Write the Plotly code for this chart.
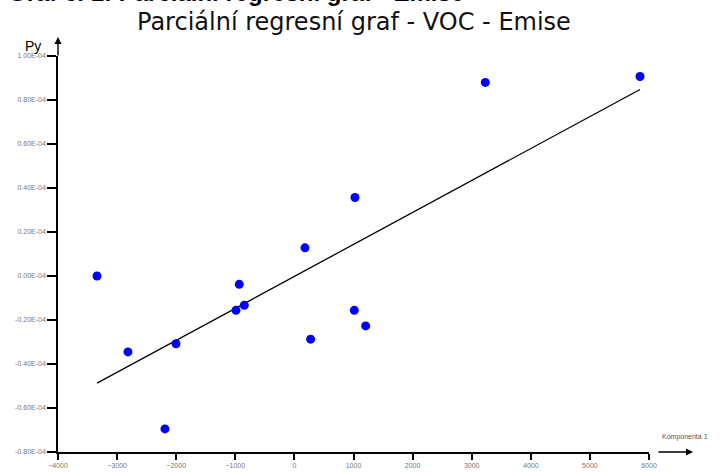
import numpy as np
import plotly.graph_objects as go

# Partial regression residuals: component (x) vs. Py (y, in units shown by tick labels)
komponenta = [-3340, -2816, -2003, -2190, -933, -988, -848, 179, 275, 1025, 1014, 1206, 3230, 5848]
py_values = [0.000, -0.345, -0.308, -0.695, -0.038, -0.156, -0.133, 0.128, -0.287, 0.357, -0.156, -0.227, 0.880, 0.907]

x_ticks = [-4000, -3000, -2000, -1000, 0, 1000, 2000, 3000, 4000, 5000, 6000]
y_ticks = [1.0, 0.8, 0.6, 0.4, 0.2, 0.0, -0.2, -0.4, -0.6, -0.8]
y_ticktext = ["1.00E-04", "0.80E-04", "0.60E-04", "0.40E-04", "0.20E-04",
              "0.00E-04", "-0.20E-04", "-0.40E-04", "-0.60E-04", "-0.80E-04"]

title_text = "Parciální regresní graf - VOC - Emise"
header_text = "Graf č. 1: Parciální regresní graf - Emise"

W, H = 721, 472
L, R, T, B = 58, 72, 56, 20
PW, PH = W - L - R, H - T - B


def px(xp):
    return (xp - L) / PW


def py(yp):
    return (H - B - yp) / PH


# least-squares fit line drawn across the data span
slope, intercept = np.polyfit(komponenta, py_values, 1)
fit_x = [min(komponenta), max(komponenta)]
fit_y = [slope * v + intercept for v in fit_x]

fig = go.Figure()
fig.add_trace(go.Scatter(x=fit_x, y=fit_y, mode="lines",
                         line=dict(color="black", width=1.3), hoverinfo="skip"))
fig.add_trace(go.Scatter(x=komponenta, y=py_values, mode="markers",
                         marker=dict(color="#0000ff", size=9, symbol="circle", line=dict(width=0))))

tick_font = dict(family="Liberation Sans, Arial, sans-serif", size=7, color="#777777")

fig.update_layout(
    width=W, height=H,
    margin=dict(l=L, r=R, t=T, b=B, pad=0, autoexpand=False),
    paper_bgcolor="white", plot_bgcolor="white",
    showlegend=False,
    xaxis=dict(range=[-4000, 6000], tickvals=x_ticks, ticks="outside", ticklen=6,
               tickwidth=1.5, tickcolor="black", showline=True, linecolor="black",
               linewidth=1.5, showgrid=False, zeroline=False, tickfont=tick_font,
               automargin=False),
    yaxis=dict(range=[-0.8, 1.0], tickvals=y_ticks, ticktext=y_ticktext, ticks="outside",
               ticklen=9, tickwidth=1.5, tickcolor="black", showline=True, linecolor="black",
               linewidth=1.5, showgrid=False, zeroline=False, tickfont=tick_font,
               automargin=False),
    annotations=[
        # main title
        dict(text=title_text, xref="paper", yref="paper", x=px(354), y=py(22),
             xanchor="center", yanchor="middle", showarrow=False,
             font=dict(family="DejaVu Sans, sans-serif", size=24, color="#111111")),
        # bold header partly above the page
        dict(text="<b>" + header_text + "</b>", xref="paper", yref="paper", x=px(466), y=py(8.5),
             xanchor="right", yanchor="bottom", showarrow=False,
             font=dict(family="Liberation Sans, Arial, sans-serif", size=24, color="black")),
        # axis names
        dict(text="Py", xref="paper", yref="paper", x=px(33), y=py(46),
             xanchor="center", yanchor="middle", showarrow=False,
             font=dict(family="Liberation Sans, Arial, sans-serif", size=14, color="black")),
        dict(text="Komponenta 1", xref="paper", yref="paper", x=px(660), y=py(437),
             xanchor="left", yanchor="middle", showarrow=False,
             font=dict(family="Liberation Sans, Arial, sans-serif", size=7, color="#555555")),
        # axis arrows
        dict(text="", xref="paper", yref="paper", x=px(58), y=py(37),
             ax=0, ay=20, axref="pixel", ayref="pixel", showarrow=True,
             arrowhead=2, arrowsize=1, arrowwidth=1.4, arrowcolor="black"),
        dict(text="", xref="paper", yref="paper", x=px(693), y=py(452),
             ax=-36, ay=0, axref="pixel", ayref="pixel", showarrow=True,
             arrowhead=2, arrowsize=1, arrowwidth=1.4, arrowcolor="black"),
    ],
)

fig.write_html("out.html")
